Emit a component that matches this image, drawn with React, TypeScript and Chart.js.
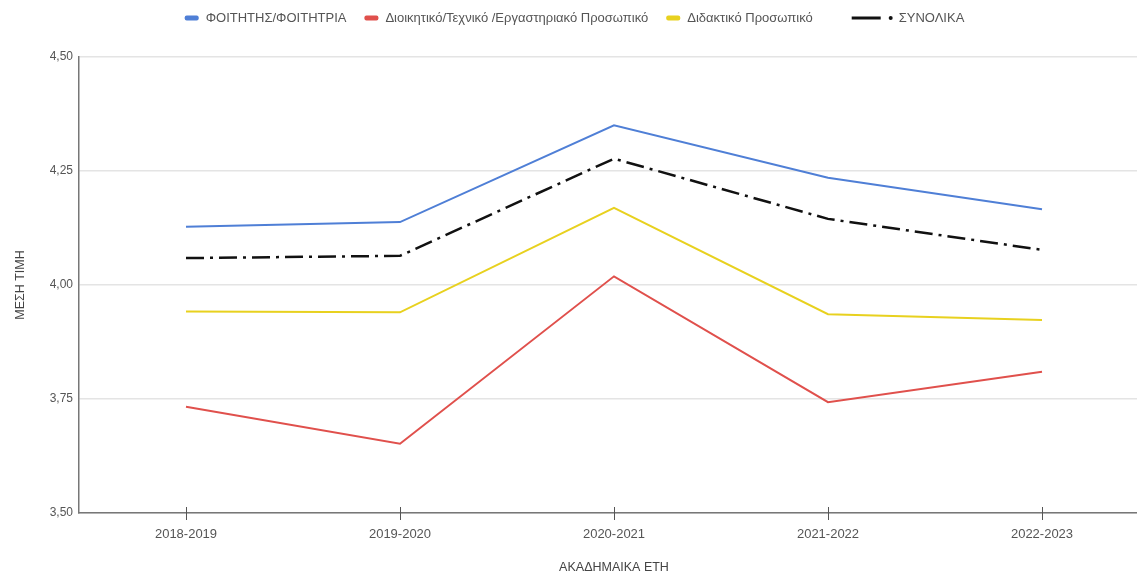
import React, { useEffect, useRef } from "react";
import { Chart, registerables } from "chart.js";

Chart.register(...registerables);

const categories = ["2018-2019", "2019-2020", "2020-2021", "2021-2022", "2022-2023"];
const seriesNames = [
  "ΦΟΙΤΗΤΗΣ/ΦΟΙΤΗΤΡΙΑ",
  "Διοικητικό/Τεχνικό /Εργαστηριακό Προσωπικό",
  "Διδακτικό Προσωπικό",
  "ΣΥΝΟΛΙΚΑ",
];
const students = [4.128, 4.138, 4.35, 4.235, 4.166];
const adminStaff = [3.733, 3.652, 4.019, 3.743, 3.81];
const teachingStaff = [3.942, 3.94, 4.169, 3.936, 3.923];
const overall = [4.059, 4.064, 4.277, 4.145, 4.077];
const seriesColors = ["#4f7fd6", "#e0504c", "#e8d11f", "#111111"];
const yMin = 3.5;
const yMax = 4.5;
const yStep = 0.25;
const yTitle = "ΜΕΣΗ ΤΙΜΗ";
const xTitle = "ΑΚΑΔΗΜΑΙΚΑ ΕΤΗ";

const FONT = '"Liberation Sans", Arial, sans-serif';

const legendPlugin = {
  id: "customLegend",
  afterDraw(chart: any) {
    const ctx = chart.ctx as CanvasRenderingContext2D;
    const datasets = chart.data.datasets;
    ctx.save();
    ctx.font = `13px ${FONT}`;
    ctx.textBaseline = "middle";
    const y = 18;
    const gapBetween = 18;
    const items = datasets.map((ds: any, i: number) => {
      const isLine = i === datasets.length - 1;
      const glyph = isLine ? 68 : 21;
      const w = glyph + ctx.measureText(ds.label).width;
      return { ds, isLine, glyph, w };
    });
    const total = items.reduce((a: number, it: any) => a + it.w, 0) + gapBetween * (items.length - 1);
    let x = chart.width / 2 - total / 2;
    items.forEach((it: any) => {
      const color = it.ds.borderColor;
      if (it.isLine) {
        ctx.strokeStyle = color;
        ctx.lineWidth = 3;
        ctx.beginPath();
        ctx.moveTo(x + 21, y);
        ctx.lineTo(x + 50, y);
        ctx.stroke();
        ctx.fillStyle = color;
        ctx.beginPath();
        ctx.arc(x + 60, y, 2, 0, Math.PI * 2);
        ctx.fill();
      } else {
        ctx.fillStyle = color;
        ctx.beginPath();
        (ctx as any).roundRect(x, y - 2.5, 14, 5, 2);
        ctx.fill();
      }
      ctx.fillStyle = "#555";
      ctx.fillText(it.ds.label, x + it.glyph, y + 0.5);
      x += it.w + gapBetween;
    });
    ctx.restore();
  },
};

const tickMarkPlugin = {
  id: "xTickMarks",
  afterDraw(chart: any) {
    const scale = chart.scales.x;
    const ctx = chart.ctx as CanvasRenderingContext2D;
    const yAxis = chart.chartArea.bottom;
    ctx.save();
    ctx.strokeStyle = "#555";
    ctx.lineWidth = 1;
    for (let i = 0; i < scale.ticks.length; i++) {
      const px = Math.round(scale.getPixelForTick(i)) + 0.5;
      ctx.beginPath();
      ctx.moveTo(px, yAxis - 6);
      ctx.lineTo(px, yAxis + 7);
      ctx.stroke();
    }
    ctx.restore();
  },
};

export default function App() {
  const canvasRef = useRef<HTMLCanvasElement | null>(null);

  useEffect(() => {
    if (!canvasRef.current) return;
    const mk = (i: number, data: number[], dash: number[] = [], width = 2) => ({
      label: seriesNames[i],
      data,
      borderColor: seriesColors[i],
      backgroundColor: seriesColors[i],
      borderWidth: width,
      borderDash: dash,
      pointRadius: 0,
      pointHoverRadius: 0,
      tension: 0,
      fill: false,
    });
    const chart = new Chart(canvasRef.current, {
      type: "line",
      data: {
        labels: categories,
        datasets: [
          mk(0, students),
          mk(1, adminStaff),
          mk(2, teachingStaff),
          mk(3, overall, [18, 6, 3, 6], 2.5),
        ],
      },
      plugins: [legendPlugin, tickMarkPlugin],
      options: {
        animation: false,
        responsive: true,
        maintainAspectRatio: false,
        layout: { padding: { top: 57, left: 0, right: 0, bottom: 0 } },
        plugins: {
          legend: { display: false },
          tooltip: { enabled: false },
          title: { display: false },
        },
        scales: {
          x: {
            offset: true,
            grid: { display: false, drawTicks: true, tickLength: 8 },
            border: { display: true, color: "#777", width: 1.5 },
            ticks: {
              color: "#555",
              font: { family: FONT, size: 13 },
              padding: 6,
              maxRotation: 0,
            },
            title: {
              display: true,
              text: xTitle,
              color: "#444",
              font: { family: FONT, size: 12.5 },
              padding: { top: 4, bottom: 4 },
            },
            afterFit: (s: any) => {
              s.height = 66;
            },
          },
          y: {
            min: yMin,
            max: yMax,
            grid: { color: "#e4e4e4", lineWidth: 1.5, drawTicks: false },
            border: { display: true, color: "#777", width: 1.5 },
            ticks: {
              stepSize: yStep,
              color: "#555",
              font: { family: FONT, size: 12 },
              padding: 6,
              callback: (v: any) => Number(v).toFixed(2).replace(".", ","),
            },
            title: {
              display: true,
              text: yTitle,
              color: "#444",
              font: { family: FONT, size: 12.5 },
              padding: { top: 13, bottom: 4 },
            },
            afterFit: (s: any) => {
              s.width = 79;
            },
          },
        },
      },
    });
    return () => chart.destroy();
  }, []);

  return (
    <div
      style={{
        position: "fixed",
        left: 0,
        top: 0,
        width: 1137,
        height: 579,
        overflow: "hidden",
        background: "#fff",
      }}
    >
      <div style={{ position: "relative", width: 1149, height: 579 }}>
        <canvas ref={canvasRef} />
      </div>
    </div>
  );
}
